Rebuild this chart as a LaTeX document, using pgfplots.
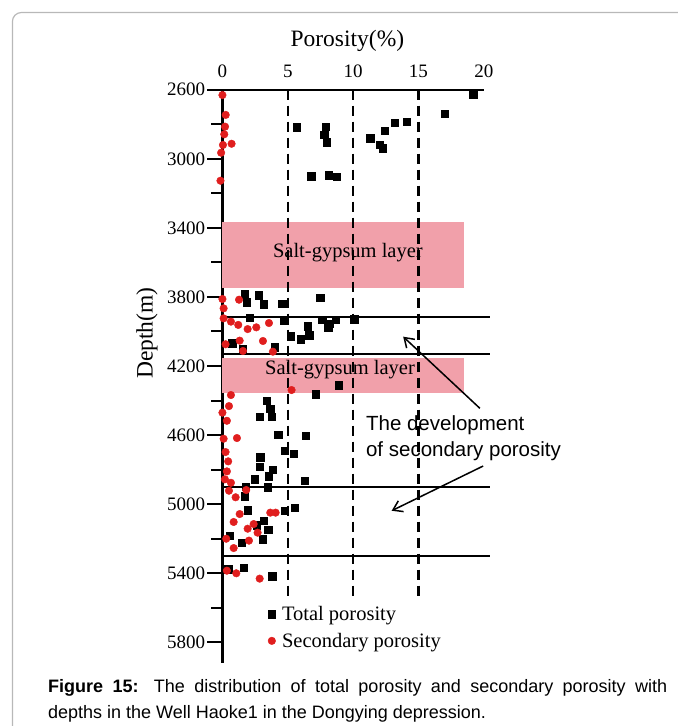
\documentclass[border=0pt]{standalone}
\usepackage{fontspec}
\setmainfont{Liberation Serif}
\newfontfamily\arial{Liberation Sans}
\usepackage{pgfplots}
\pgfplotsset{compat=1.18}
\usetikzlibrary{arrows.meta}
\definecolor{saltpink}{RGB}{241,160,170}
\definecolor{secred}{RGB}{224,30,30}

\begin{document}
\begin{tikzpicture}
\begin{axis}[
  scale only axis, width=261.4pt, height=573.4pt,
  xmin=0, xmax=20, ymin=2600, ymax=5920,
  y dir=reverse,
  clip=false,
  axis x line*=top, axis y line*=left,
  axis line style={line width=2.2pt},
  xtick={0,5,10,15,20},
  x tick style={draw=none},
  xticklabel style={yshift=-6.5pt},
  ytick={2600,3000,...,5800},
  minor ytick={2800,3200,...,5600},
  y tick style={line width=2pt, black},
  tick align=outside,
  major tick length=15pt,
  minor tick length=11pt,
  yticklabel style={inner xsep=2pt},
  /pgf/number format/.cd, 1000 sep={}, assume math mode=true,
  /pgfplots/.cd,
  ticklabel style={font=\fontsize{19}{19}\selectfont},
  legend image code/.code={\draw[#1] plot coordinates {(6pt,0pt)}; \path (0pt,0pt) (14pt,0pt);},
  legend style={draw=none, fill=none, at={(axis cs:3.06,5714)}, anchor=west,
    font=\fontsize{20.5}{24}\selectfont, row sep=7pt},
  legend cell align=left,
]
% page extent and frame
\path (-17.02,2080.6) rectangle (34.85,6284.4);
\draw[overlay, draw=black!28, line width=1.2pt, rounded corners=9pt]
  (35.77,2153.0) -- (-16.07,2153.0) -- (-16.07,6365.6);

% salt-gypsum layers
\fill[saltpink] (0,3366) rectangle (18.5,3748);
\fill[saltpink] (0,4153) rectangle (18.5,4358);
\node[font=\fontsize{20.5}{24}\selectfont] at (9.6,3546) {Salt-gypsum layer};
\node[font=\fontsize{20.5}{24}\selectfont] at (9.0,4221) {Salt-gypsum layer};

% reference lines at 5, 10 and 15 %
\foreach \xv in {5,10,15}{
  \edef\tmp{\noexpand\draw[line width=2.2pt, dash pattern=on 10pt off 6pt] (\xv,2600) -- (\xv,5540);}
  \tmp
}
% depth boundaries
\foreach \dv in {3915,4130,4900,5300}{
  \edef\tmp{\noexpand\draw[line width=2pt] (0,\dv) -- (20.45,\dv);}
  \tmp
}

\addplot[only marks, mark=square*, mark size=3.7pt, black] coordinates {
(19.2,2625) (17.0,2739) (5.7,2818) (7.9,2814) (7.8,2862) (8.0,2903)
(11.3,2881) (12.4,2837) (13.2,2791) (14.1,2787) (12.05,2920) (12.25,2939)
(6.8,3100) (8.15,3094) (8.75,3105)
(1.72,3785) (1.87,3831) (2.79,3789) (3.15,3843) (4.58,3839) (7.48,3804)
(2.08,3920) (4.73,3939) (5.24,4028) (6.0,4044) (6.52,3970) (6.64,4022)
(7.64,3932) (8.1,3978) (8.2,3955) (8.66,3932) (10.09,3930)
(0.75,4067) (1.57,4098) (4.02,4090)
(8.91,4312) (7.13,4362) (3.4,4401) (3.66,4447) (2.85,4493) (3.76,4493)
(4.27,4598) (6.37,4605) (4.78,4690) (5.45,4709) (2.89,4729) (2.85,4783)
(3.86,4802) (3.56,4837) (2.49,4856) (6.31,4864) (1.78,4899) (3.46,4902)
(1.72,4953) (1.93,5034) (4.78,5038) (5.55,5022) (3.15,5096) (2.64,5122)
(3.51,5149) (0.55,5184) (1.47,5223) (3.1,5203)
(0.44,5377) (1.62,5369) (3.81,5416)
};
\addlegendentry{Total porosity}

\addplot[only marks, mark=*, mark size=3.8pt, secred] coordinates {
(0,2631) (0.25,2746) (0.2,2814) (0.14,2858) (0.04,2920) (0.7,2913)
(-0.1,2965) (-0.15,3127)
(0,3812) (1.27,3816) (0.09,3866) (0.09,3924) (0.65,3943) (1.21,3962)
(1.93,3986) (2.59,3976) (3.56,3951) (0.24,4074) (1.32,4053) (3.1,4055)
(1.57,4113) (3.86,4117)
(5.29,4339) (0.65,4368) (0.5,4432) (0,4470) (0.34,4517) (0.09,4621)
(1.11,4617) (0.24,4698) (0.44,4752) (0.34,4810) (0.19,4856) (0.65,4876)
(0.5,4922) (1.82,4918) (1.01,4960) (1.32,5057) (0.86,5103) (1.93,5142)
(2.39,5115) (2.69,5165) (2.03,5211) (0.29,5200) (0.86,5254) (3.66,5049)
(4.07,5049)
(0.34,5385) (1.06,5400) (2.85,5431)
};
\addlegendentry{Secondary porosity}

% axis titles
\node[font=\fontsize{23.5}{26}\selectfont] at (9.56,2318) {Porosity(\%)};
\node[font=\fontsize{23.5}{26}\selectfont, rotate=90] at (-5.78,4009) {Depth(m)};

% annotation
\draw[line width=1.5pt, -{Straight Barb[length=9pt,width=12pt]}] (19.70,4445) -- (13.83,4030);
\draw[line width=1.5pt, -{Straight Barb[length=9pt,width=12pt]}] (19.95,4779) -- (12.95,5038);
\node[font=\arial\fontsize{20.5}{26.5}\selectfont, align=left, anchor=west, inner sep=1pt] at (10.9,4617)
  {The development\\of secondary porosity};

% caption
\node[anchor=north west, inner sep=0pt, text width=619pt, align=justify,
      font=\arial\fontsize{18}{26}\selectfont] at (-13.35,6012.3)
  {\hyphenpenalty=10000 \textbf{Figure 15:} The distribution of total porosity and secondary porosity with\linebreak depths in the Well Haoke1 in the Dongying depression.};
\end{axis}
\end{tikzpicture}
\end{document}
